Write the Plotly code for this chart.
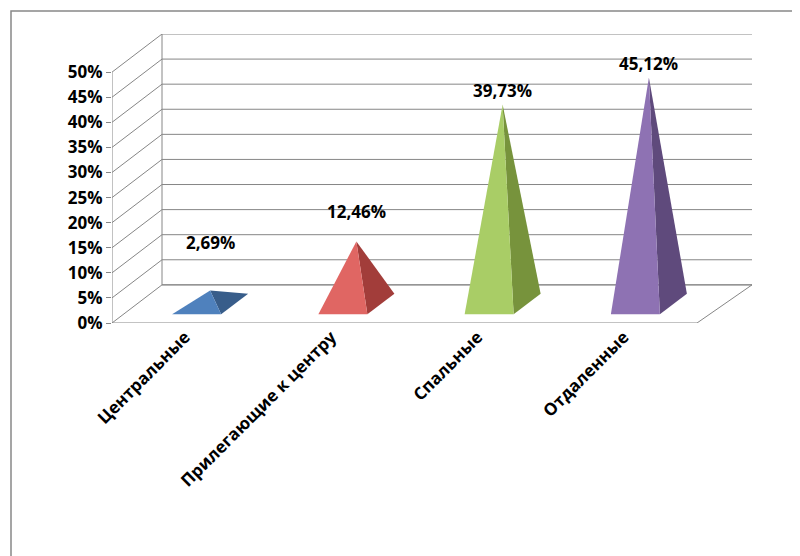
import plotly.graph_objects as go

categories = ["Центральные", "Прилегающие к центру", "Спальные", "Отдаленные"]
values = [2.69, 12.46, 39.73, 45.12]
labels = ["2,69%", "12,46%", "39,73%", "45,12%"]
front_colors = ["#4F81BD", "#E06663", "#A9CD66", "#8E72B3"]
side_colors = ["#385D8A", "#A23D3A", "#77933C", "#5F4A7C"]
label_shift = [48, 30, 14, 14]
yticks = [0, 5, 10, 15, 20, 25, 30, 35, 40, 45, 50]

W, H = 800, 556
L, R, T, B = 104, 744, 26, 315
DX, DY = 50, 38 / 5.0
FRONT_W = 585
n = len(categories)
step = FRONT_W / n
centers = [step * (i + 0.5) for i in range(n)]
hw, f0, f1 = 24.5, 0.23, 0.77

fig = go.Figure()
grid = dict(color="#868686", width=1)
for v in yticks:
    fig.add_trace(go.Scatter(x=[0, DX, 640], y=[v, v + DY, v + DY], mode="lines",
                             line=grid, hoverinfo="skip", showlegend=False))
fig.add_trace(go.Scatter(x=[0, 0], y=[0, 50], mode="lines", line=grid, showlegend=False))
fig.add_trace(go.Scatter(x=[DX, DX], y=[DY, 50 + DY], mode="lines", line=grid, showlegend=False))
fig.add_trace(go.Scatter(x=[0, FRONT_W, 640, DX], y=[0, 0, DY, DY], mode="lines",
                         line=grid, showlegend=False))
for i in range(n + 1):
    fig.add_trace(go.Scatter(x=[step * i, step * i], y=[0, -1.2], mode="lines",
                             line=grid, showlegend=False))

for i, v in enumerate(values):
    cx = centers[i]
    fl = (cx - hw + f0 * DX, f0 * DY)
    fr = (cx + hw + f0 * DX, f0 * DY)
    br = (cx + hw + f1 * DX, f1 * DY)
    ap = (cx + 0.5 * DX, v + 0.5 * DY)
    fig.add_trace(go.Scatter(x=[fr[0], br[0], ap[0], fr[0]], y=[fr[1], br[1], ap[1], fr[1]],
                             fill="toself", fillcolor=side_colors[i], mode="lines",
                             line=dict(width=0, color=side_colors[i]), showlegend=False))
    fig.add_trace(go.Scatter(x=[fl[0], fr[0], ap[0], fl[0]], y=[fl[1], fr[1], ap[1], fl[1]],
                             fill="toself", fillcolor=front_colors[i], mode="lines",
                             line=dict(width=0, color=front_colors[i]), showlegend=False))
    fig.add_annotation(x=ap[0], y=ap[1], text=labels[i], showarrow=False, yshift=label_shift[i],
                       font=dict(size=17, color="black", family="Open Sans", weight="bold"))

pw, ph = R - L, B - T
fig.add_shape(type="rect", xref="paper", yref="paper",
              x0=(3 - L) / pw, x1=(W - 6 - L) / pw,
              y0=-(H - 6 - B) / ph, y1=1 + (T - 3) / ph,
              line=dict(color="#888888", width=1.5))

fig.update_layout(
    width=W, height=H, margin=dict(l=L, r=W - R, t=T, b=H - B),
    plot_bgcolor="white", paper_bgcolor="white", showlegend=False,
    xaxis=dict(range=[0, 640], showgrid=False, zeroline=False, showline=False,
               tickvals=centers, ticktext=categories, tickangle=-45, ticks="",
               tickfont=dict(size=17, family="Open Sans", color="black", weight="bold")),
    yaxis=dict(range=[0, 57.6], showgrid=False, zeroline=False, showline=False,
               tickvals=yticks, ticktext=[f"{t}%" for t in yticks], ticks="outside",
               ticklen=5, tickcolor="#868686",
               tickfont=dict(size=17, family="Open Sans", color="black", weight="bold")),
)
fig.write_html("out.html")
